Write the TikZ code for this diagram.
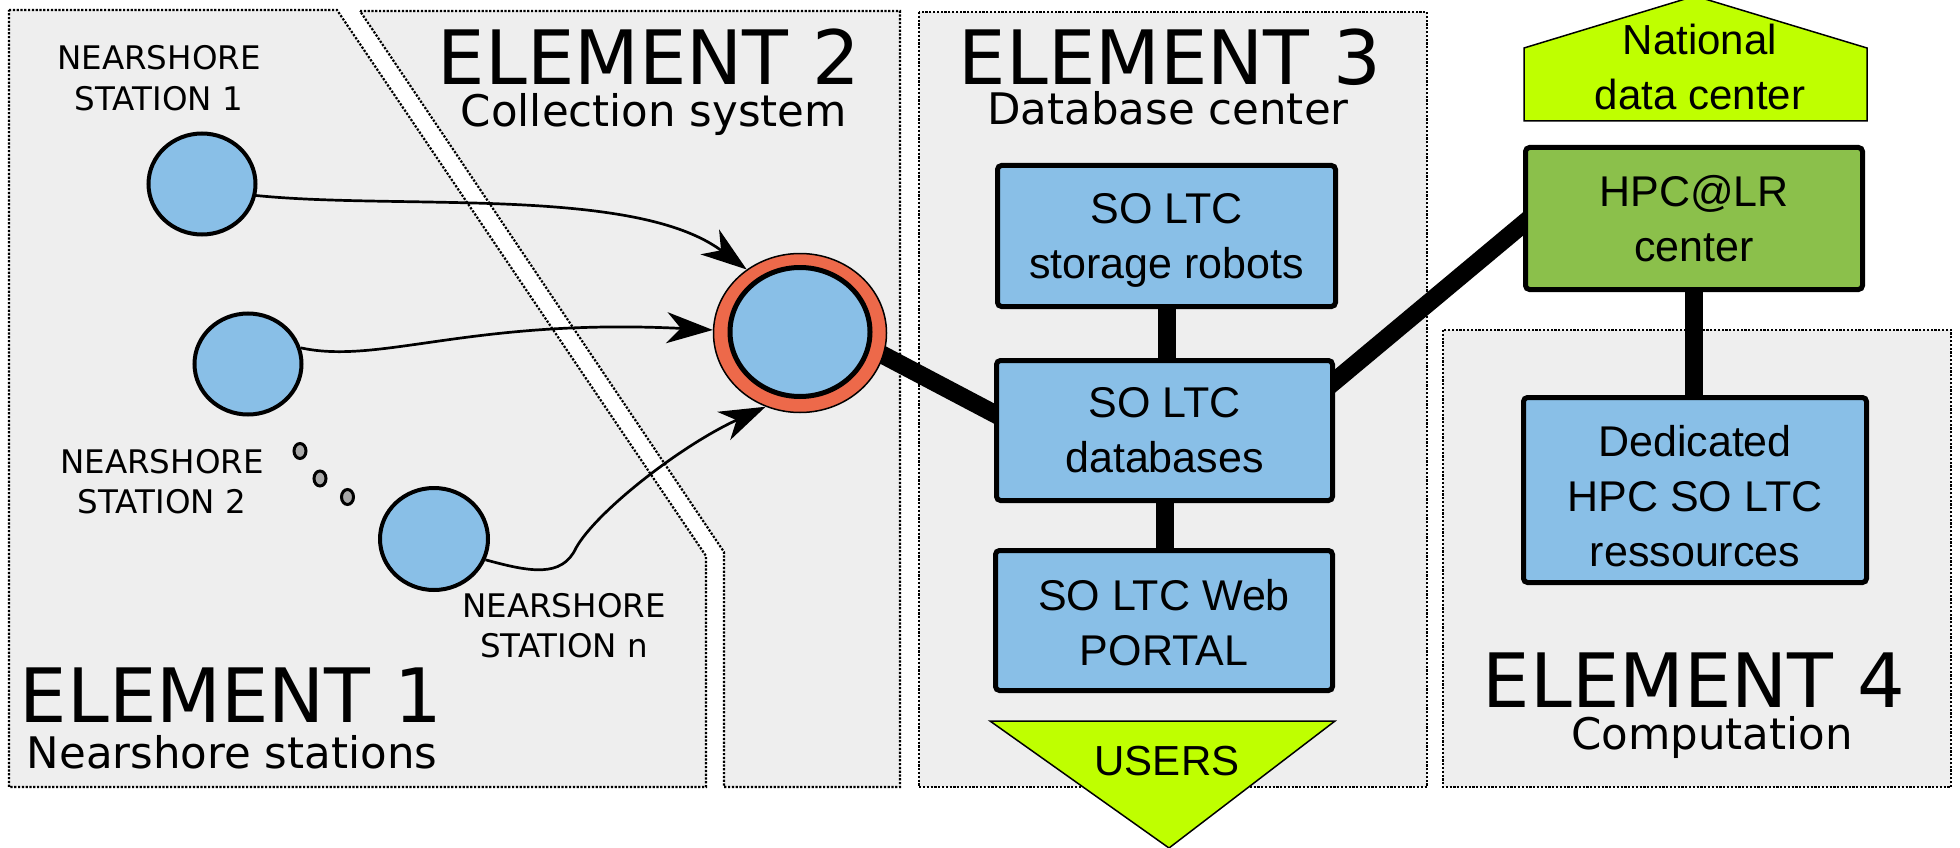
\documentclass[tikz,border=0pt]{standalone}
\usepackage{fontspec}
\newfontfamily\dejavu{DejaVu Sans}
\newfontfamily\libsans{Liberation Sans}
\usetikzlibrary{shapes.geometric,arrows.meta}
\pgfdeclarelayer{panels}
\pgfdeclarelayer{links}
\pgfsetlayers{panels,links,main}
\definecolor{panelgray}{HTML}{EEEEEE}
\definecolor{nodeblue}{HTML}{89BFE7}
\definecolor{ringorange}{HTML}{ED694A}
\definecolor{limefill}{HTML}{BFFF00}
\definecolor{hpcgreen}{HTML}{8BC04B}
\definecolor{dotgray}{HTML}{A8A8A8}
\begin{document}
\begin{tikzpicture}[x=1pt,y=-1pt,
  panel/.style={fill=panelgray, draw=black, line width=2.2pt, dash pattern=on 2.2pt off 1.6pt},
  station/.style={ellipse, draw=black, line width=4pt, fill=nodeblue, minimum width=107pt, minimum height=101pt, inner sep=0pt},
  dotnode/.style={ellipse, draw=black, line width=3pt, fill=dotgray, minimum width=12pt, minimum height=15pt, inner sep=0pt},
  box/.style={draw=black, line width=5pt, rounded corners=4pt, fill=nodeblue, align=center, font=\libsans\fontsize{43}{55}\selectfont, inner sep=0pt, minimum width=338pt, minimum height=141pt},
  bigtitle/.style={font=\dejavu\fontsize{75}{80}\selectfont, anchor=base, inner sep=0pt},
  subtitle/.style={font=\dejavu\fontsize{43.5}{50}\selectfont, anchor=base, inner sep=0pt},
  stlabel/.style={font=\dejavu\fontsize{32.5}{40}\selectfont, anchor=base, inner sep=0pt},
  sidetext/.style={font=\libsans\fontsize{42}{50}\selectfont, anchor=base, inner sep=0pt},
  shapeline/.style={draw=black, line width=1.5pt, fill=limefill},
  flow/.style={line width=2.7pt, -{Stealth[length=46pt,width=31pt,inset=14pt]}},
  thickline/.style={line width=18pt, shorten <=-8pt, shorten >=-8pt}]
\useasboundingbox (0,0) rectangle (1960,848);
\begin{pgfonlayer}{panels}
\fill[white] (0,0) rectangle (1960,848);
\draw[panel] (9,10) -- (337,10) -- (706,556) -- (706,787) -- (9,787) -- cycle;
\draw[panel] (360,11) -- (900,11) -- (900,787) -- (724,787) -- (724,552) -- cycle;
\draw[panel] (919,12) rectangle (1427,787);
\draw[panel] (1443,330) rectangle (1951,787);
\end{pgfonlayer}

% titles
\node[bigtitle] (t1) at (231,722) {ELEMENT 1};
\node[subtitle] (st1) at (232,768) {Nearshore stations};
\node[bigtitle] (t2) at (649,85) {ELEMENT 2};
\node[subtitle] (st2) at (654,127) {Collection system};
\node[bigtitle] (t3) at (1170,85) {ELEMENT 3};
\node[subtitle] (st3) at (1168,125) {Database center};
\node[bigtitle] (t4) at (1694,707) {ELEMENT 4};
\node[subtitle] (st4) at (1712,749) {Computation};

% stations
\node[station] (s1) at (202,184) {};
\node[station] (s2) at (248,364) {};
\node[station, minimum width=108pt, minimum height=102pt] (sn) at (434,539) {};
\node[stlabel] (l1a) at (159,70) {NEARSHORE};
\node[stlabel] (l1b) at (159,111) {STATION 1};
\node[stlabel] (l2a) at (162,473) {NEARSHORE};
\node[stlabel] (l2b) at (162,513) {STATION 2};
\node[stlabel] (lna) at (564,617) {NEARSHORE};
\node[stlabel] (lnb) at (564,657) {STATION n};
\node[dotnode] (d1) at (300,451) {};
\node[dotnode] (d2) at (320,478.5) {};
\node[dotnode] (d3) at (347.5,497) {};

% collector
\node[ellipse, draw=black, line width=1.5pt, fill=ringorange, minimum width=173pt, minimum height=159pt, inner sep=0pt] (collout) at (800,333) {};
\node[ellipse, draw=black, line width=5pt, fill=nodeblue, minimum width=140pt, minimum height=129pt, inner sep=0pt] (coll) at (800,332) {};

% boxes
\node[box] (storage) at (1166.5,236) {\rule{0pt}{39pt}SO LTC\\storage robots};
\node[box, minimum width=336pt, minimum height=140pt] (db) at (1164.5,430.5) {SO LTC\\databases};
\node[box, minimum width=337pt, minimum height=140pt] (portal) at (1164,620.5) {\rule{0pt}{35pt}SO LTC Web\\PORTAL};
\node[box, fill=hpcgreen, minimum width=337pt, minimum height=142pt] (hpc) at (1694,218.5) {HPC@LR\\center};
\node[box, minimum width=343pt, minimum height=185pt] (ded) at (1695,490) {\rule{0pt}{44pt}Dedicated\\HPC SO LTC\\ressources};

% national data center
\draw[shapeline] (1524,121) -- (1524,48) -- (1695,-4) -- (1867,48) -- (1867,121) -- cycle;
\node[sidetext] (natl1) at (1700,55) {National};
\node[sidetext] (natl2) at (1700,110) {data center};

% users
\draw[shapeline] (990,721) -- (1335,721) -- (1169,848) -- cycle;
\node[sidetext] (users) at (1167,775) {USERS};

% thick links
\begin{pgfonlayer}{links}
\draw[thickline] (collout.-15) -- ([yshift=17pt]db.west);
\draw[thickline] ([yshift=49.5pt]db.east) -- ([yshift=-5.5pt]hpc.west);
\draw[thickline] (storage.south) -- (storage.south |- db.north);
\draw[thickline] (db.south) -- (db.south |- portal.north);
\draw[thickline] (hpc.south) -- (hpc.south |- ded.north);
\end{pgfonlayer}

% flows
\coordinate (snbend) at (576,548);
\draw[flow] (s1.-12) .. controls (400,210) and (635,186) .. (collout.130);
\draw[flow] (s2.17) .. controls (380,365) and (470,318) .. (collout.178);
\draw[flow] (sn.-22) .. controls (530,572) and (562,578) .. (snbend) .. controls (596,512) and (680,446) .. (collout.245);
\end{tikzpicture}
\end{document}
